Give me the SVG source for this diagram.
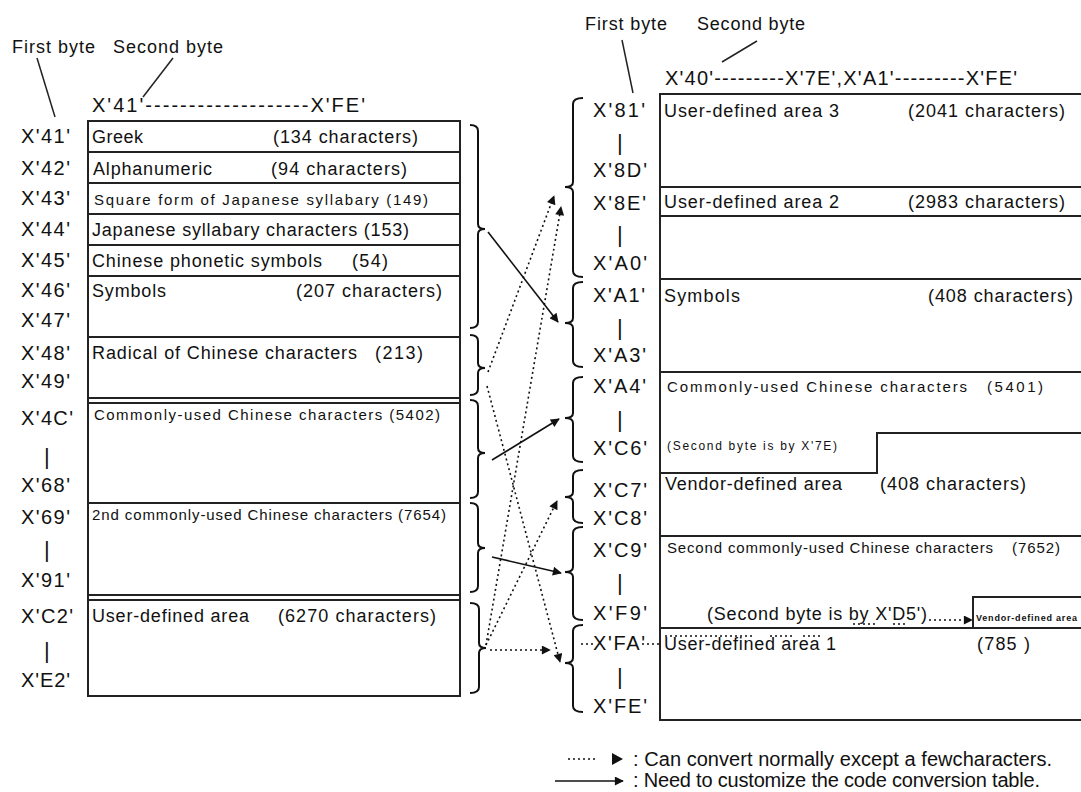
<svg xmlns="http://www.w3.org/2000/svg" width="1081" height="792" viewBox="0 0 1081 792">
<defs>
<style>
text{font-family:"Liberation Sans",Arial,sans-serif;fill:#111}
.t{font-size:18px}
.s{font-size:15px}
.xs{font-size:12px}
.lb{font-size:20px}
.bar{font-size:22px}
.hd{font-size:18px}
.box{fill:none;stroke:#222;stroke-width:2}
.ln{stroke:#222;stroke-width:2;fill:none}
.thin{stroke:#222;stroke-width:1.5;fill:none}
.br{stroke:#111;stroke-width:2;fill:none}
.sol{stroke:#111;stroke-width:1.6;fill:none}
.dot{stroke:#111;stroke-width:1.6;fill:none;stroke-dasharray:2 3}
</style>
<marker id="ah" viewBox="0 0 10 10" refX="9" refY="5" markerWidth="12" markerHeight="9" markerUnits="userSpaceOnUse" orient="auto">
<path d="M0,0 L10,5 L0,10 Z" fill="#111"/>
</marker>
</defs>
<rect width="1081" height="792" fill="#fff"/>

<g id="left-header">
<text class="hd" x="12" y="53" textLength="83">First byte</text>
<text class="hd" x="113" y="53" textLength="110">Second byte</text>
<line class="thin" x1="37" y1="58" x2="55" y2="117"/>
<line class="thin" x1="173" y1="58" x2="143" y2="97"/>
<text class="lb" x="92" y="112" textLength="273">X'41'-------------------X'FE'</text>
</g>

<g id="left-labels">
<text class="lb" x="21" y="143" textLength="49">X'41'</text>
<text class="lb" x="21" y="175" textLength="49">X'42'</text>
<text class="lb" x="21" y="205" textLength="49">X'43'</text>
<text class="lb" x="21" y="236" textLength="49">X'44'</text>
<text class="lb" x="21" y="267" textLength="49">X'45'</text>
<text class="lb" x="21" y="297" textLength="49">X'46'</text>
<text class="lb" x="21" y="327" textLength="49">X'47'</text>
<text class="lb" x="21" y="360" textLength="49">X'48'</text>
<text class="lb" x="21" y="388" textLength="49">X'49'</text>
<text class="lb" x="21" y="425" textLength="52">X'4C'</text>
<text class="bar" x="44" y="464">|</text>
<text class="lb" x="21" y="492" textLength="49">X'68'</text>
<text class="lb" x="21" y="524" textLength="49">X'69'</text>
<text class="bar" x="44" y="557">|</text>
<text class="lb" x="21" y="587" textLength="49">X'91'</text>
<text class="lb" x="21" y="623" textLength="52">X'C2'</text>
<text class="bar" x="44" y="658">|</text>
<text class="lb" x="21" y="687" textLength="49">X'E2'</text>
</g>

<g id="left-table">
<rect class="box" x="88" y="121" width="372" height="575"/>
<line class="ln" x1="88" y1="152" x2="460" y2="152"/>
<line class="ln" x1="88" y1="183" x2="460" y2="183"/>
<line class="ln" x1="88" y1="214" x2="460" y2="214"/>
<line class="ln" x1="88" y1="245" x2="460" y2="245"/>
<line class="ln" x1="88" y1="276" x2="460" y2="276"/>
<line class="ln" x1="88" y1="337" x2="460" y2="337"/>
<line class="ln" x1="88" y1="398" x2="460" y2="398"/>
<line class="ln" x1="88" y1="403" x2="460" y2="403"/>
<line class="ln" x1="88" y1="503" x2="460" y2="503"/>
<line class="ln" x1="88" y1="595" x2="460" y2="595"/>
<line class="ln" x1="88" y1="600" x2="460" y2="600"/>
</g>
<g id="l-greek"><text class="t" x="92" y="143" textLength="51">Greek</text><text class="t" x="273" y="143" textLength="145">(134 characters)</text></g>
<g id="l-alnum"><text class="t" x="93" y="175" textLength="119">Alphanumeric</text><text class="t" x="271" y="175" textLength="136">(94 characters)</text></g>
<g id="l-square"><text class="s" x="94" y="205" textLength="334">Square form of Japanese syllabary (149)</text></g>
<g id="l-kana"><text class="t" x="92" y="236" textLength="317">Japanese syllabary characters (153)</text></g>
<g id="l-phon"><text class="t" x="92" y="267" textLength="230">Chinese phonetic symbols</text><text class="t" x="352" y="267" textLength="36">(54)</text></g>
<g id="l-sym"><text class="t" x="92" y="297" textLength="74">Symbols</text><text class="t" x="296" y="297" textLength="146">(207 characters)</text></g>
<g id="l-rad"><text class="t" x="92" y="359" textLength="265">Radical of Chinese characters</text><text class="t" x="375" y="359" textLength="48">(213)</text></g>
<g id="l-common"><text class="s" x="94" y="420" textLength="346">Commonly-used Chinese characters (5402)</text></g>
<g id="l-2nd"><text class="s" x="92" y="520" textLength="354">2nd commonly-used Chinese characters (7654)</text></g>
<g id="l-uda"><text class="t" x="92" y="622" textLength="157">User-defined area</text><text class="t" x="278" y="622" textLength="158">(6270 characters)</text></g>

<g id="left-braces">
<path class="br" d="M470,125 Q478,125 478,131 L478,224 Q478,229 485,229 Q478,229 478,234 L478,322 Q478,328 470,328"/>
<path class="br" d="M470,335 Q478,335 478,341 L478,363 Q478,368 485,368 Q478,368 478,373 L478,389 Q478,395 470,395"/>
<path class="br" d="M470,400 Q478,400 478,406 L478,448 Q478,453 485,453 Q478,453 478,458 L478,492 Q478,498 470,498"/>
<path class="br" d="M470,503 Q478,503 478,509 L478,543 Q478,548 485,548 Q478,548 478,553 L478,586 Q478,592 470,592"/>
<path class="br" d="M470,603 Q479,603 479,609 L479,643 Q479,648 486,648 Q479,648 479,653 L479,687 Q479,693 470,693"/>
</g>

<g id="right-header">
<text class="hd" x="585" y="30" textLength="82">First byte</text>
<text class="hd" x="697" y="30" textLength="108">Second byte</text>
<line class="thin" x1="622" y1="40" x2="633" y2="93"/>
<line class="thin" x1="757" y1="41" x2="722" y2="62"/>
<text class="lb" x="665" y="85" textLength="352">X'40'---------X'7E',X'A1'---------X'FE'</text>
</g>

<g id="right-labels">
<text class="lb" x="593" y="117" textLength="52">X'81'</text>
<text class="bar" x="617" y="150">|</text>
<text class="lb" x="593" y="177" textLength="54">X'8D'</text>
<text class="lb" x="593" y="210" textLength="53">X'8E'</text>
<text class="bar" x="617" y="242">|</text>
<text class="lb" x="593" y="270" textLength="54">X'A0'</text>
<text class="lb" x="593" y="302" textLength="52">X'A1'</text>
<text class="bar" x="617" y="335">|</text>
<text class="lb" x="593" y="362" textLength="53">X'A3'</text>
<text class="lb" x="593" y="393" textLength="53">X'A4'</text>
<text class="bar" x="617" y="427">|</text>
<text class="lb" x="593" y="455" textLength="54">X'C6'</text>
<text class="lb" x="593" y="497" textLength="54">X'C7'</text>
<text class="lb" x="593" y="525" textLength="54">X'C8'</text>
<text class="lb" x="593" y="557" textLength="54">X'C9'</text>
<text class="bar" x="617" y="590">|</text>
<text class="lb" x="593" y="620" textLength="54">X'F9'</text>
<text class="lb" x="593" y="650" textLength="52">X'FA'</text>
<text class="bar" x="617" y="684">|</text>
<text class="lb" x="593" y="713" textLength="54">X'FE'</text>
</g>

<g id="right-table">
<path class="ln" d="M1090,94 L660,94 L660,720 L1090,720"/>
<line class="ln" x1="660" y1="187" x2="1081" y2="187"/>
<line class="ln" x1="660" y1="216" x2="1081" y2="216"/>
<line class="ln" x1="660" y1="279" x2="1081" y2="279"/>
<line class="ln" x1="660" y1="372" x2="1081" y2="372"/>
<path class="ln" d="M660,473 L877,473 L877,433 L1081,433"/>
<line class="ln" x1="660" y1="536" x2="1081" y2="536"/>
<line class="ln" x1="660" y1="628" x2="1081" y2="628"/>
<path class="ln" d="M973,628 L973,597 L1081,597"/>
</g>
<g id="r-uda3"><text class="t" x="664" y="117" textLength="175">User-defined area 3</text><text class="t" x="908" y="117" textLength="157">(2041 characters)</text></g>
<g id="r-uda2"><text class="t" x="664" y="208" textLength="175">User-defined area 2</text><text class="t" x="908" y="208" textLength="157">(2983 characters)</text></g>
<g id="r-sym"><text class="t" x="664" y="302" textLength="76">Symbols</text><text class="t" x="928" y="302" textLength="145">(408 characters)</text></g>
<g id="r-common"><text class="s" x="667" y="392" textLength="300">Commonly-used Chinese characters</text><text class="s" x="987" y="392" textLength="56">(5401)</text><text class="xs" x="667" y="450" textLength="170">(Second byte is by X'7E)</text></g>
<g id="r-vendor"><text class="t" x="665" y="490" textLength="177">Vendor-defined area</text><text class="t" x="880" y="490" textLength="146">(408 characters)</text></g>
<g id="r-2nd"><text class="s" x="667" y="553" textLength="326">Second commonly-used Chinese characters</text><text class="s" x="1012" y="553" textLength="48">(7652)</text><text class="t" x="707" y="620" textLength="220">(Second byte is by X'D5')</text></g>
<g id="r-vendor2"><text x="976" y="621" style="font-size:9px;font-weight:bold" textLength="101">Vendor-defined area</text></g>
<g id="r-uda1"><text class="t" x="664" y="650" textLength="172">User-defined area 1</text><text class="t" x="977" y="650" textLength="53">(785 )</text></g>

<g id="right-braces">
<path class="br" d="M583,98 Q573,98 573,104 L573,182 Q573,187 565,187 Q573,187 573,192 L573,271 Q573,277 583,277"/>
<path class="br" d="M583,282 Q573,282 573,288 L573,318 Q573,323 565,323 Q573,323 573,328 L573,361 Q573,367 583,367"/>
<path class="br" d="M583,377 Q573,377 573,383 L573,413 Q573,418 565,418 Q573,418 573,423 L573,456 Q573,462 583,462"/>
<path class="br" d="M583,470 Q573,470 573,476 L573,492 Q573,497 565,497 Q573,497 573,502 L573,517 Q573,523 583,523"/>
<path class="br" d="M583,527 Q573,527 573,533 L573,567 Q573,572 565,572 Q573,572 573,577 L573,614 Q573,620 583,620"/>
<path class="br" d="M583,625 Q573,625 573,631 L573,658 Q573,663 565,663 Q573,663 573,668 L573,706 Q573,712 583,712"/>
</g>

<g id="connectors">
<line class="sol" x1="488" y1="232" x2="558" y2="322" marker-end="url(#ah)"/>
<line class="sol" x1="492" y1="460" x2="559" y2="419" marker-end="url(#ah)"/>
<line class="sol" x1="492" y1="557" x2="561" y2="573" marker-end="url(#ah)"/>
<line class="dot" x1="488" y1="372" x2="554" y2="196" marker-end="url(#ah)"/>
<line class="dot" x1="486" y1="645" x2="561" y2="207" marker-end="url(#ah)"/>
<line class="dot" x1="486" y1="645" x2="557" y2="501" marker-end="url(#ah)"/>
<line class="dot" x1="487" y1="386" x2="560" y2="662" marker-end="url(#ah)"/>
<line class="dot" x1="490" y1="650" x2="550" y2="650" marker-end="url(#ah)"/>
<line class="dot" x1="581" y1="644" x2="593" y2="644"/>
<line class="dot" x1="642" y1="644" x2="662" y2="644"/>
<line class="dot" x1="665" y1="636" x2="752" y2="636"/>
<line class="dot" x1="770" y1="636" x2="793" y2="636"/>
<line class="dot" x1="803" y1="636" x2="822" y2="636"/>
<line class="dot" x1="853" y1="624" x2="877" y2="624"/>
<line class="dot" x1="893" y1="624" x2="908" y2="624"/>
<line class="dot" x1="929" y1="620" x2="972" y2="620" marker-end="url(#ah)"/>
</g>

<g id="legend">
<line class="dot" x1="568" y1="759" x2="596" y2="759"/>
<path d="M612,753 L623,759 L612,765 Z" fill="#111"/>
<text class="lb" x="633" y="766" textLength="419">: Can convert normally except a fewcharacters.</text>
<line class="sol" x1="555" y1="781" x2="623" y2="781" marker-end="url(#ah)"/>
<text class="lb" x="633" y="787" textLength="407">: Need to customize the code conversion table.</text>
</g>
</svg>
